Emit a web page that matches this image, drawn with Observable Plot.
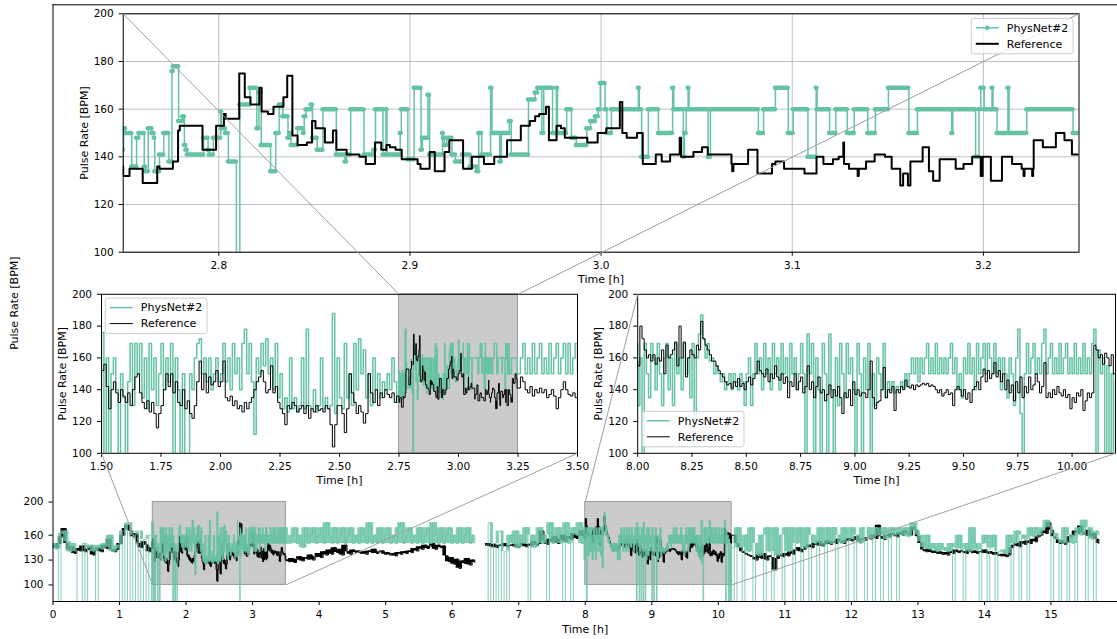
<!DOCTYPE html>
<html>
<head>
<meta charset="utf-8">
<script src="https://cdn.jsdelivr.net/npm/d3@7"></script>
<script src="https://cdn.jsdelivr.net/npm/@observablehq/plot@0.6"></script>
<style>
html, body { margin: 0; padding: 0; background: #fff; }
#chart { position: relative; width: 1117px; height: 639px; overflow: hidden; background: #fff; font-family: "DejaVu Sans", sans-serif; }
#chart svg { position: absolute; left: 0; top: 0; }
</style>
</head>
<body>
<div id="chart"></div>
<script>
// ---------------- DATA ----------------
const seriesNames = ["PhysNet#2", "Reference"];

// zoom windows (hours / BPM)
const zoomTop = [2.75, 3.25];
const zoomA = [1.5, 3.5];
const zoomB = [8.0, 10.2];
const zoomBpm = [100, 200];

// tick values
const mainXTicks = [0,1,2,3,4,5,6,7,8,9,10,11,12,13,14,15];
const mainYTicks = [100, 130, 160, 200];
const topXTicks = [2.8, 2.9, 3.0, 3.1, 3.2];
const insetYTicks = [100, 120, 140, 160, 180, 200];
const zoomAXTicks = [1.5, 1.75, 2.0, 2.25, 2.5, 2.75, 3.0, 3.25, 3.5];
const zoomBXTicks = [8.0, 8.25, 8.5, 8.75, 9.0, 9.25, 9.5, 9.75, 10.0];

// segment start times (h) and sampling steps (h)
const tEarly = 0.00, tZoomA1 = 1.50, tZoomA2 = 3.26, tMidday = 3.54, tEvening = 6.50, tZoomB = 8.00, tLate = 10.24;
const coarseStep = 0.04, fineStep = 0.01;

// ---- Reference (BPM) ----
const refEarly = [148,145,150,158,168,150,142,146,138,144,
  141,147,140,143,146,136,142,145,140,148,
  144,155,142,140,143,150,160,168,172,165,
  158,162,150,145,152,148,140,145];
const refZoomA1 = [152,156,142,128,140,145,138,132,140,136,
  132,138,130,140,148,150,138,132,128,133,
  126,132,125,116,125,130,140,150,142,150,
  138,145,132,130,140,128,133,125,122,130,
  145,158,140,150,138,148,143,145,152,142,
  145,158,135,133,136,130,133,128,130,126,
  132,128,132,135,140,145,148,152,145,138,
  140,155,138,142,132,128,125,118,130,128,
  132,130,126,128,130,125,130,122,128,126,
  130,127,128,126,130,128,118,104,118,130,
  130,125,113,128,150,138,132,125,130,126,
  119,125,150,138,132,140,130,138,135,140,
  137,135,138,132,136];
// change points [h, BPM] in the 2.75-3.25 h window
const refTop = [[2.7500,132],[2.7533,135],[2.7602,129],[2.7678,136],[2.7690,135],[2.7760,138],[2.7787,151],[2.7796,153],[2.7915,143],[2.7986,153],[2.8027,158],[2.8036,156],[2.8107,175],[2.8136,165],[2.8166,162],[2.8212,169],[2.8224,159],[2.8257,158],[2.8286,161],[2.8338,165],[2.8358,174],[2.8385,149],[2.8412,145],[2.8461,146],[2.8488,155],[2.8506,152],[2.8555,146],[2.8597,151],[2.8615,143],[2.8669,141],[2.8736,140],[2.8769,137],[2.8817,146],[2.8850,143],[2.8877,145],[2.8895,144],[2.8925,143],[2.8957,139],[2.9040,137],[2.9055,135],[2.9103,142],[2.9130,134],[2.9181,142],[2.9206,147],[2.9278,135],[2.9324,140],[2.9387,137],[2.9441,140],[2.9508,147],[2.9580,153],[2.9627,155],[2.9655,157],[2.9676,158],[2.9712,161],[2.9727,147],[2.9767,153],[2.9790,152],[2.9810,148],[2.9928,146],[2.9982,150],[3.0027,152],[3.0098,163],[3.0111,150],[3.0134,148],[3.0188,150],[3.0218,137],[3.0286,141],[3.0317,138],[3.0361,141],[3.0411,148],[3.0418,140],[3.0483,142],[3.0528,144],[3.0558,141],[3.0682,137],[3.0686,134],[3.0692,137],[3.0769,143],[3.0818,133],[3.0894,137],[3.0912,138],[3.0957,135],[3.1064,133],[3.1127,140],[3.1163,137],[3.1213,139],[3.1243,140],[3.1267,146],[3.1271,137],[3.1297,135],[3.1342,132],[3.1348,135],[3.1386,138],[3.1431,141],[3.1485,140],[3.1520,135],[3.1565,128],[3.1580,133],[3.1605,128],[3.1618,138],[3.1682,144],[3.1715,134],[3.1737,130],[3.1771,139],[3.1855,135],[3.1896,137],[3.1941,140],[3.1986,132],[3.1996,140],[3.2039,130],[3.2097,140],[3.2150,137],[3.2200,135],[3.2210,132],[3.2215,135],[3.2255,132],[3.2260,135],[3.2263,147],[3.2311,144],[3.2379,150],[3.2424,147],[3.2463,141]];
const refZoomA2 = [148,145,140,138,142,136,140,138,141,138,
  140,135,137,140,136,128,135,140,145,140,
  137,136,138,135,130];
const refMidday = [128,132,127,131,134,129,133,131,136,130,
  134,138,133,140,136,142,137,145,139,143,
  136,148,140,137,142,139,141,138,140,137,
  141,139,143,138,140,141,137,139,136,138,
  135,139,137,140,138,141,139,144,141,146,
  143,148,144,147,150,143,148,145,147,135,
  128,133,125,131,120,129,126,132,124,130,
  127];
const refEvening = [148,150,146,149,145,148,147,150,146,148,
  147,149,145,148,150,146,149,147,152,148,
  150,165,153,149,155,152,158,150,155,160,
  152,158,155,162,156,160,165,158];
const refZoomB = [155,180,172,165,160,162,158,162,156,160,
  158,165,150,168,160,162,165,170,155,180,
  160,170,148,160,165,162,160,168,165,183,
  172,168,165,162,158,158,155,152,150,148,
  145,143,144,141,145,142,147,142,144,140,
  145,148,143,147,150,158,152,150,148,153,
  145,150,147,155,148,146,150,144,148,135,
  145,142,150,140,145,148,138,142,155,140,
  145,135,142,148,138,140,133,137,143,135,
  140,136,142,135,125,138,135,140,130,145,
  137,140,136,138,138,135,140,158,135,128,
  132,133,140,154,135,140,138,142,127,140,
  138,142,140,146,142,141,143,140,143,142,
  143,144,143,144,142,143,142,140,138,140,
  136,138,140,137,138,130,140,142,140,136,
  140,134,138,132,140,142,145,140,148,153,
  145,152,147,150,157,148,152,145,150,140,
  146,138,143,133,145,138,148,135,142,138,
  148,140,143,150,145,138,142,157,135,138,
  135,140,137,142,138,136,140,135,137,128,
  135,132,138,136,140,127,133,138,135,138,
  168,165,160,162,156,163,160,155,162,150,
  160];
const refLate = [160,150,145,140,138,136,135,133,130,137,
  132,138,130,135,133,118,132,136,134,138,
  135,140,137,142,145,140,143,146,148,145,
  150,148,152,147,150,153,149,152,150,155,
  152,150,154,156,153,155,158,152,156,154,
  157,155,160,156,172,158,155,160,158,162,
  160,158,163,160,165,162,160,170,166,158,
  150,142,140,143,139,141,138,140,137,139,
  136,140,138,142,139,141,140,138,142,139,
  141,138,140,139,142,138,140,137,139,136,
  135,137,134,136,145,148,150,146,152,149,
  153,150,155,152,158,160,165,162,175,166,
  158,155,150,153,149,152,158,160,165,162,
  171,163,160,166,158,162,155,150];

// ---- PhysNet#2 (BPM; 60 = dropout far below the axes) ----
const netEarly = [150,143,60,162,165,152,140,150,141,60,
  60,150,60,145,148,140,60,148,143,150,
  146,160,140,144,148,60,165,60,175,60,
  160,60,165,60,155,60,160,60];
const netZoomA1 = [176,60,160,60,150,160,140,60,150,135,
  60,145,169,130,169,150,169,135,160,128,
  169,140,160,130,150,169,140,160,145,169,
  60,160,140,60,150,60,60,150,140,160,
  169,172,150,160,145,160,140,150,160,145,
  150,169,145,160,140,169,150,160,140,169,
  178,150,169,145,112,160,150,169,155,172,
  150,160,140,169,135,150,128,135,126,160,
  128,135,126,130,160,128,178,130,128,140,
  126,130,160,128,135,128,130,188,125,160,
  135,128,169,135,150,130,169,140,172,150,
  165,135,150,130,160,140,150,135,145,140,
  150,140,160,145,132];
const netTop = [[2.7500,143],[2.7502,152],[2.7512,150],[2.7545,136],[2.7570,148],[2.7582,150],[2.7610,136],[2.7617,134],[2.7631,152],[2.7650,150],[2.7662,148],[2.7665,134],[2.7690,141],[2.7712,150],[2.7739,138],[2.7755,176],[2.7762,178],[2.7790,155],[2.7812,157],[2.7820,145],[2.7828,143],[2.7835,141],[2.7920,148],[2.7944,143],[2.7950,141],[2.7972,148],[2.8010,159],[2.8015,152],[2.8035,150],[2.8050,138],[2.8092,60],[2.8110,162],[2.8163,169],[2.8199,152],[2.8210,167],[2.8222,145],[2.8271,134],[2.8298,150],[2.8316,162],[2.8335,157],[2.8362,148],[2.8370,150],[2.8378,145],[2.8412,152],[2.8443,150],[2.8447,157],[2.8456,160],[2.8483,162],[2.8490,148],[2.8515,143],[2.8545,160],[2.8615,141],[2.8660,138],[2.8668,141],[2.8690,160],[2.8760,141],[2.8810,143],[2.8820,160],[2.8859,141],[2.8875,160],[2.8880,141],[2.8949,150],[2.8955,160],[2.8989,139],[2.9022,169],[2.9058,143],[2.9065,148],[2.9094,166],[2.9103,141],[2.9170,150],[2.9175,148],[2.9180,145],[2.9193,148],[2.9220,141],[2.9238,138],[2.9275,141],[2.9315,136],[2.9350,134],[2.9360,150],[2.9375,141],[2.9422,169],[2.9429,150],[2.9470,138],[2.9478,150],[2.9520,155],[2.9530,141],[2.9620,164],[2.9655,167],[2.9668,169],[2.9690,150],[2.9700,169],[2.9746,150],[2.9766,169],[2.9772,150],[2.9820,160],[2.9845,148],[2.9870,145],[2.9925,152],[2.9945,155],[2.9970,157],[2.9985,160],[2.9996,171],[3.0021,160],[3.0030,150],[3.0054,160],[3.0195,169],[3.0200,160],[3.0212,140],[3.0247,160],[3.0300,150],[3.0374,169],[3.0380,160],[3.0430,140],[3.0436,150],[3.0445,160],[3.0455,169],[3.0460,160],[3.0560,140],[3.0572,160],[3.0823,150],[3.0850,160],[3.0912,169],[3.0979,150],[3.1005,160],[3.1082,140],[3.1125,169],[3.1130,160],[3.1195,150],[3.1228,160],[3.1288,150],[3.1324,160],[3.1395,150],[3.1435,160],[3.1503,169],[3.1610,150],[3.1655,160],[3.1834,150],[3.1840,160],[3.1959,140],[3.1977,160],[3.1986,169],[3.2004,160],[3.2045,169],[3.2050,160],[3.2071,150],[3.2128,169],[3.2134,150],[3.2227,160],[3.2469,150]];
const netZoomA2 = [160,169,150,160,150,169,150,160,169,150,
  160,150,169,150,160,169,150,160,169,150,
  169,150,160,169,150];
const netMidday = [150,160,169,150,160,145,169,150,160,169,
  150,160,169,150,175,160,150,169,150,160,
  169,150,160,169,150,160,150,169,160,150,
  175,150,160,150,169,150,160,169,150,160,
  150,169,175,150,160,169,150,160,150,169,
  150,160,169,150,175,160,150,169,150,160,
  169,150,160,150,169,150,160,169,150,160,
  150];
const netEvening = [60,175,60,150,60,165,60,140,60,160,
  150,165,145,160,150,169,60,160,145,150,
  169,150,160,60,175,150,160,169,150,60,
  175,150,60,169,160,175,150,169];
const netZoomB = [130,160,60,169,150,135,169,160,140,169,
  150,130,160,169,140,160,130,169,150,160,
  140,169,150,160,135,169,120,160,175,187,
  172,160,169,158,160,150,155,150,145,150,
  140,145,150,140,150,145,140,150,145,130,
  150,160,130,150,169,150,160,140,169,150,
  160,140,169,150,160,140,169,150,160,145,
  169,150,160,140,150,169,150,60,175,150,
  169,60,160,140,60,169,150,60,175,140,
  60,160,130,169,150,135,169,150,160,140,
  60,169,150,60,160,140,169,60,150,130,
  160,150,140,169,135,145,140,145,138,142,
  140,145,141,150,142,150,160,150,160,145,
  160,150,160,169,150,160,150,169,150,160,
  150,160,150,160,169,150,160,140,150,135,
  160,150,169,150,160,140,169,150,160,169,
  150,169,160,150,169,150,160,140,160,150,
  135,160,150,130,160,178,125,60,150,169,
  150,160,169,150,160,150,169,178,150,160,
  169,150,160,150,169,150,160,169,150,160,
  150,169,150,160,150,169,150,160,150,169,
  178,60,165,150,160,60,155,60,150,60,
  145];
const netLate = [60,169,145,60,160,140,169,60,150,135,
  160,60,169,140,60,169,135,160,60,169,
  140,169,60,150,169,60,145,169,60,160,
  150,60,169,148,60,169,150,169,60,160,
  150,169,60,155,169,60,160,150,169,60,
  169,155,60,169,160,60,169,155,60,169,
  160,60,169,160,169,158,169,175,165,160,
  152,145,160,143,150,145,140,150,142,145,
  140,150,60,145,160,143,60,150,140,169,
  150,142,60,150,160,60,145,160,60,140,
  140,142,138,160,60,150,165,60,160,155,
  60,169,158,169,160,165,169,178,170,60,
  162,155,60,150,169,60,160,150,60,169,
  160,178,60,169,155,60,165,160];

// ---------------- BUILD ----------------
const W = 1117, H = 639;
const GREEN = "#66c2a5";
const FONT = "DejaVu Sans";

function regular(values, start, step, run) {
  return values.map((v, i) => ({t: Math.round((start + i * step) * 10000) / 10000, v, run}));
}
function pairs(list, run) { return list.map(([t, v]) => ({t, v, run})); }

const refData = [
  ...regular(refEarly, tEarly, coarseStep, 0),
  ...regular(refZoomA1, tZoomA1, fineStep, 0),
  ...pairs(refTop, 0),
  ...regular(refZoomA2, tZoomA2, fineStep, 0),
  ...regular(refMidday, tMidday, coarseStep, 0),
  ...regular(refEvening, tEvening, coarseStep, 1),
  ...regular(refZoomB, tZoomB, fineStep, 1),
  ...regular(refLate, tLate, coarseStep, 1)
];
const netData = [
  ...regular(netEarly, tEarly, coarseStep, 0),
  ...regular(netZoomA1, tZoomA1, fineStep, 0),
  ...pairs(netTop, 0),
  ...regular(netZoomA2, tZoomA2, fineStep, 0),
  ...regular(netMidday, tMidday, coarseStep, 0),
  ...regular(netEvening, tEvening, coarseStep, 1),
  ...regular(netZoomB, tZoomB, fineStep, 1),
  ...regular(netLate, tLate, coarseStep, 1)
];

// range of neighbouring readings (ignoring dropouts): in the overview panel
// every pixel column is filled between the readings around it
function spread(data, before, after) {
  return data.map((d, i) => {
    const vals = [];
    for (let j = i - before; j <= i + after; j++) {
      const n = data[j];
      if (n && n.run === d.run && n.v >= zoomBpm[0]) vals.push(n.v);
    }
    return {t: d.t, run: d.run, lo: vals.length ? Math.min(...vals) : NaN, hi: vals.length ? Math.max(...vals) : NaN};
  });
}
const refSpread = spread(refData, 0, 1);
const netSpread = spread(netData, 1, 1);

// runs of identical samples, drawn as merged markers in the top panel
const netBands = netData.slice(0, -1)
  .map((d, i) => ({t1: d.t, t2: netData[i + 1].t, v: d.v}))
  .filter(d => d.t1 >= zoomTop[0] && d.t1 < zoomTop[1]);

const mainBoxes = [
  {x1: zoomA[0], x2: zoomA[1], y1: zoomBpm[0], y2: zoomBpm[1]},
  {x1: zoomB[0], x2: zoomB[1], y1: zoomBpm[0], y2: zoomBpm[1]}
];
const topBox = [{x1: zoomTop[0], x2: zoomTop[1], y1: zoomBpm[0], y2: zoomBpm[1]}];

const baseStyle = {fontFamily: FONT, fontSize: "10.5px", color: "black", background: "transparent"};
const axisOpts = {tickSize: 4, tickPadding: 5.5, label: null};

function labels(xlab, ylab) {
  return [
    Plot.text([xlab], {text: d => d, frameAnchor: "bottom", dy: 27.5, textAnchor: "middle", lineAnchor: "middle", fontSize: 11, fill: "black"}),
    Plot.text([ylab], {text: d => d, frameAnchor: "left", dx: -39, rotate: -90, textAnchor: "middle", lineAnchor: "middle", fontSize: 11, fill: "black"})
  ];
}

// ---- main (full night) ----
const mainPlot = Plot.plot({
  width: W, height: H,
  marginLeft: 52.5, marginRight: 0, marginTop: 4.3, marginBottom: H - 601,
  x: {domain: [0, 16]},
  y: {domain: [80, 800]},
  style: baseStyle,
  marks: [
    Plot.rect(mainBoxes, {x1: "x1", x2: "x2", y1: "y1", y2: "y2", fill: "#cbcbcb", stroke: "#999999", strokeWidth: 1}),
    Plot.areaY(refSpread, {x: "t", y1: "lo", y2: "hi", z: "run", fill: "black", curve: "step-after", clip: true}),
    Plot.line(refData, {x: "t", y: "v", z: "run", stroke: "black", strokeWidth: 1, curve: "step-after", clip: true}),
    Plot.areaY(netSpread, {x: "t", y1: "lo", y2: "hi", z: "run", fill: GREEN, fillOpacity: 0.8, curve: "step-after", clip: true}),
    Plot.line(netData, {x: "t", y: "v", z: "run", stroke: GREEN, strokeOpacity: 0.8, strokeWidth: 1, curve: "step-after", clip: true}),
    Plot.ruleY([800], {stroke: "black"}),
    Plot.ruleY([80], {stroke: "black"}),
    Plot.ruleX([0], {stroke: "black"}),
    Plot.axisX({...axisOpts, ticks: mainXTicks, tickFormat: d3.format("d")}),
    Plot.axisY({...axisOpts, ticks: mainYTicks, tickFormat: d3.format("d")}),
    ...labels("Time [h]", "Pulse Rate [BPM]")
  ]
});

// ---- inset A (1.5-3.5 h) ----
const insetA = Plot.plot({
  width: W, height: H,
  marginLeft: 101, marginRight: W - 577, marginTop: 293.8, marginBottom: H - 452.8,
  x: {domain: zoomA},
  y: {domain: zoomBpm},
  style: baseStyle,
  marks: [
    Plot.frame({fill: "white", stroke: "none"}),
    Plot.rect(topBox, {x1: "x1", x2: "x2", y1: "y1", y2: "y2", fill: "#cbcbcb", stroke: "#999999", strokeWidth: 1}),
    Plot.line(netData, {x: "t", y: "v", z: "run", stroke: GREEN, strokeWidth: 1.5, curve: "step-after", clip: true}),
    Plot.line(refData, {x: "t", y: "v", z: "run", stroke: "black", strokeWidth: 1, curve: "step-after", clip: true}),
    Plot.frame({stroke: "black"}),
    Plot.axisX({...axisOpts, ticks: zoomAXTicks, tickFormat: d3.format(".2f")}),
    Plot.axisY({...axisOpts, ticks: insetYTicks, tickFormat: d3.format("d")}),
    ...labels("Time [h]", "Pulse Rate [BPM]")
  ]
});

// ---- inset B (8.0-10.2 h) ----
const insetB = Plot.plot({
  width: W, height: H,
  marginLeft: 637.2, marginRight: W - 1115, marginTop: 293.8, marginBottom: H - 452.8,
  x: {domain: zoomB},
  y: {domain: zoomBpm},
  style: baseStyle,
  marks: [
    Plot.frame({fill: "white", stroke: "none"}),
    Plot.line(netData, {x: "t", y: "v", z: "run", stroke: GREEN, strokeWidth: 1.5, curve: "step-after", clip: true}),
    Plot.line(refData, {x: "t", y: "v", z: "run", stroke: "black", strokeWidth: 1, curve: "step-after", clip: true}),
    Plot.frame({stroke: "black"}),
    Plot.axisX({...axisOpts, ticks: zoomBXTicks, tickFormat: d3.format(".2f")}),
    Plot.axisY({...axisOpts, ticks: insetYTicks, tickFormat: d3.format("d")}),
    ...labels("Time [h]", "Pulse Rate [BPM]")
  ]
});

// ---- top inset (2.75-3.25 h) ----
const topPlot = Plot.plot({
  width: W, height: H,
  marginLeft: 122.7, marginRight: W - 1078.5, marginTop: 13.3, marginBottom: H - 251.7,
  x: {domain: zoomTop},
  y: {domain: zoomBpm},
  style: baseStyle,
  marks: [
    Plot.frame({fill: "white", stroke: "none"}),
    Plot.gridX({ticks: topXTicks, stroke: "#b0b0b0", strokeOpacity: 1, strokeWidth: 0.8}),
    Plot.gridY({ticks: insetYTicks, stroke: "#b0b0b0", strokeOpacity: 1, strokeWidth: 0.8}),
    Plot.line(netData, {x: "t", y: "v", z: "run", stroke: GREEN, strokeWidth: 1.5, curve: "step-after", clip: true}),
    Plot.ruleY(netBands, {x1: "t1", x2: "t2", y: "v", stroke: GREEN, strokeWidth: 4.5, strokeLinecap: "round", clip: true}),
    Plot.line(refData, {x: "t", y: "v", z: "run", stroke: "black", strokeWidth: 2, curve: "step-after", clip: true}),
    Plot.frame({stroke: "black"}),
    Plot.axisX({...axisOpts, ticks: topXTicks, tickFormat: d3.format(".1f")}),
    Plot.axisY({...axisOpts, ticks: insetYTicks, tickFormat: d3.format("d")}),
    ...labels("Time [h]", "Pulse Rate [BPM]")
  ]
});

// ---- connector lines between zoom boxes and insets (from the plots' scales) ----
function px(plot, x, y) { return [plot.scale("x").apply(x), plot.scale("y").apply(y)]; }
function link(a, b) { return {x1: a[0], y1: a[1], x2: b[0], y2: b[1]}; }
const links = [
  link(px(topPlot, zoomTop[0], zoomBpm[1]), px(insetA, zoomTop[0], zoomBpm[1])),
  link(px(topPlot, zoomTop[1], zoomBpm[1]), px(insetA, zoomTop[1], zoomBpm[1])),
  link(px(insetA, zoomA[0], zoomBpm[0]), px(mainPlot, zoomA[0], zoomBpm[0])),
  link(px(insetA, zoomA[1], zoomBpm[0]), px(mainPlot, zoomA[1], zoomBpm[0])),
  link(px(insetB, zoomB[0], zoomBpm[1]), px(mainPlot, zoomB[0], zoomBpm[1])),
  link(px(insetB, zoomB[1], zoomBpm[0]), px(mainPlot, zoomB[1], zoomBpm[0]))
];
const connectors = Plot.plot({
  width: W, height: H, margin: 0,
  x: {type: "identity", axis: null},
  y: {type: "identity", axis: null},
  style: {background: "transparent"},
  marks: [Plot.link(links, {x1: "x1", y1: "y1", x2: "x2", y2: "y2", stroke: "#a0a0a0", strokeWidth: 1})]
});

// ---- legends ----
const legendSvg = d3.create("svg").attr("width", W).attr("height", H);
const LW = 101.7, LH = 35.5;
function legend(x0, y0, withMarker, refWidth) {
  const g = legendSvg.append("g").attr("transform", `translate(${x0},${y0})`);
  g.append("rect").attr("width", LW).attr("height", LH).attr("rx", 2.5)
    .attr("fill", "white").attr("fill-opacity", 0.8).attr("stroke", "#cccccc").attr("stroke-width", 1);
  const items = [
    {label: seriesNames[0], color: GREEN, width: 1.5, marker: withMarker},
    {label: seriesNames[1], color: "black", width: refWidth, marker: false}
  ];
  items.forEach((it, i) => {
    const y = 9.5 + i * 16;
    g.append("line").attr("x1", 4.5).attr("x2", 27.5).attr("y1", y).attr("y2", y)
      .attr("stroke", it.color).attr("stroke-width", it.width);
    if (it.marker) g.append("circle").attr("cx", 16).attr("cy", y).attr("r", 2.3).attr("fill", it.color);
    g.append("text").attr("x", 35.5).attr("y", y).attr("dy", "0.35em")
      .attr("font-family", FONT).attr("font-size", 11).attr("fill", "black").text(it.label);
  });
}
{
  const [tx0, tx1] = topPlot.scale("x").range;
  const [tyB, tyT] = topPlot.scale("y").range;
  legend(tx1 - 5.5 - LW, tyT + 5, true, 2);
  const [ax0] = insetA.scale("x").range;
  const [ayB, ayT] = insetA.scale("y").range;
  legend(ax0 + 4.3, ayT + 4.3, false, 1);
  const [bx0] = insetB.scale("x").range;
  const [byB] = insetB.scale("y").range;
  legend(bx0 + 5.1, byB - 6 - LH, false, 1);
}

const chart = document.getElementById("chart");
[mainPlot, insetA, insetB, topPlot, connectors, legendSvg.node()].forEach(el => chart.appendChild(el));
</script>
</body>
</html>
